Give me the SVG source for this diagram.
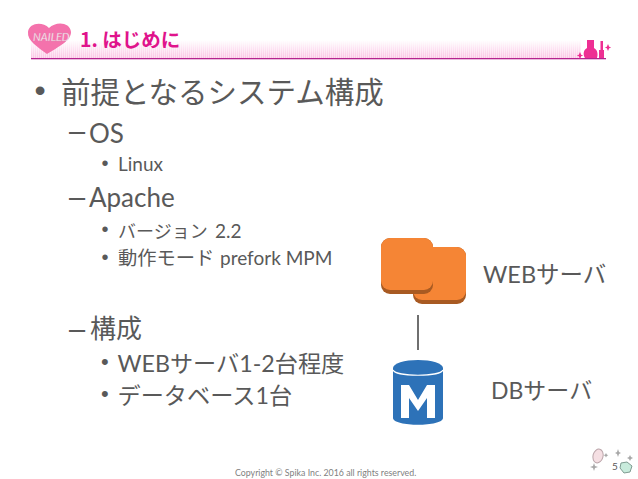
<svg xmlns="http://www.w3.org/2000/svg" width="638" height="479" viewBox="0 0 638 479">
<style>
text{font-family:Lato,"Noto Sans CJK JP",sans-serif;fill:#595959}
.sym{font-family:"Liberation Sans",sans-serif}
.b1{font-size:29.5px}.b2{font-size:26px}.b3{font-size:23.200px}.b4{font-size:19.300px}.bs{font-size:19px}
.d{font-size:29px}.p{font-size:20px}.q{font-size:22px}
</style>
<defs>
<linearGradient id="hdr" x1="0" y1="0" x2="0" y2="1"><stop offset="0" stop-color="#fff"/><stop offset="1" stop-color="#fbc0e2"/></linearGradient>
<pattern id="dots" width="2" height="2" patternUnits="userSpaceOnUse"><rect width="2" height="2" fill="#fff" opacity=".05"/><rect width="1" height="2" fill="#fff" opacity=".45"/></pattern>
</defs>
<g id="header">
<rect x="31" y="40" width="550" height="18" fill="url(#hdr)"/>
<rect x="31" y="40" width="550" height="18" fill="url(#dots)"/>
<rect x="31" y="58" width="575" height="1.300" fill="#b5238f"/>
<path d="M47 54C38 47 27 41 28 32C29 23 42 21 49 28C56 21 70 22 71 32C71 41 58 47 47 54Z" fill="#f472ac"/>
<text x="33" y="41" font-size="11" font-style="italic" style="fill:#fff;stroke:#d98bb0;stroke-width:.3">NAILED</text>
<text x="80" y="47" font-size="19.500" font-weight="700" style="fill:#e0138c;font-family:'Noto Sans CJK JP',sans-serif">1. はじめに</text>
<path d="M587 40h7v8c4 2 4 7 3 10h-12c-2-3-2-8 2-10z" fill="#ee2f93"/>
<path d="M599 50h5v8h-5zM600.500 41h2.500v9h-2.500z" fill="#ee2f93"/>
<path d="M580 52l1.200 2.800 2 .7-2 .7-1.200 2.800-1.200-2.800-2-.7 2-.7zM608 44l1.200 2.800 2 .7-2 .7-1.200 2.800-1.200-2.800-2-.7 2-.7z" fill="#ee2f93"/>
</g>
<g id="content">
<text x="34.500" y="100.500" class="sym" font-size="32">•</text>
<text x="61" y="103" class="b1">前提となるシステム構成</text>
<text x="69" y="141" class="sym d">–</text><text x="89" y="143" class="b2">OS</text>
<text x="101.500" y="169.500" class="sym p">•</text><text x="118" y="171" class="bs">Linux</text>
<text x="69" y="207" class="sym d">–</text><text x="89" y="207" class="b2">Apache</text>
<text x="101.500" y="235.500" class="sym p">•</text><text x="118" y="238" font-size="18">バージョン <tspan x="215" class="bs">2.2</tspan></text>
<text x="101.500" y="263.500" class="sym p">•</text><text x="118" y="265" class="b4">動作モード <tspan x="220" class="bs">prefork MPM</tspan></text>
<text x="69" y="339" class="sym d">–</text><text x="90" y="338" class="b2">構成</text>
<text x="101" y="369" class="sym q">•</text><text x="117.500" y="372" class="b3">WEBサーバ1-2台程度</text>
<text x="101" y="401" class="sym q">•</text><text x="117.500" y="404" class="b3">データベース1台</text>
</g>
<g id="web-server">
<rect x="413" y="247" width="53" height="57" rx="9" fill="#a85a22"/>
<rect x="413" y="247" width="53" height="53" rx="9" fill="#f58535"/>
<rect x="381" y="238" width="52" height="56" rx="9" fill="#a85a22"/>
<rect x="381" y="238" width="52" height="52" rx="9" fill="#f58535"/>
<text x="483" y="283" font-size="23.500">WEBサーバ</text>
</g>
<g id="connectors"><line x1="418" y1="315" x2="418" y2="350" stroke="#3f3f3f" stroke-width="1.500"/></g>
<g id="db-server">
<path d="M393 368v50c0 9 50 9 50 0v-50z" fill="#2d72b8"/>
<ellipse cx="418" cy="368" rx="25" ry="8" fill="#2d72b8"/>
<path d="M393 370c3 7 47 7 50 0" fill="none" stroke="#fff" stroke-width="1.200"/>
<path d="M401 418v-33h8l9 15 9-15h8v33h-8v-20l-9 13-9-13v20z" fill="#fff"/>
<text x="491" y="399" font-size="23">DBサーバ</text>
</g>
<g id="footer">
<text x="235" y="476" font-size="8.800" style="fill:#7f7f7f">Copyright © Spika Inc. 2016 all rights reserved.</text>
<text x="612" y="470" font-size="10">5</text>
<ellipse cx="598" cy="456" rx="5" ry="7" fill="#f5dfe3" stroke="#b9a3a8" transform="rotate(15 598 456)"/>
<path d="M627 462l5 4-2 6-6 1-4-5 1-5z" fill="#c8ebdc" stroke="#7f9c92"/>
<path d="M594 463l1 3 3 1-3 1-1 3-1-3-3-1 3-1zM618 449l1 3 2 1-2 1-1 3-1-3-2-1 2-1zM630 455l1 2 2 1-2 1-1 2-1-2-2-1 2-1zM606 453l.8 1.500 1.500.8-1.500.8-.8 1.500-.8-1.500-1.500-.8 1.500-.8z" fill="#a8a8a8"/>
</g>
</svg>
